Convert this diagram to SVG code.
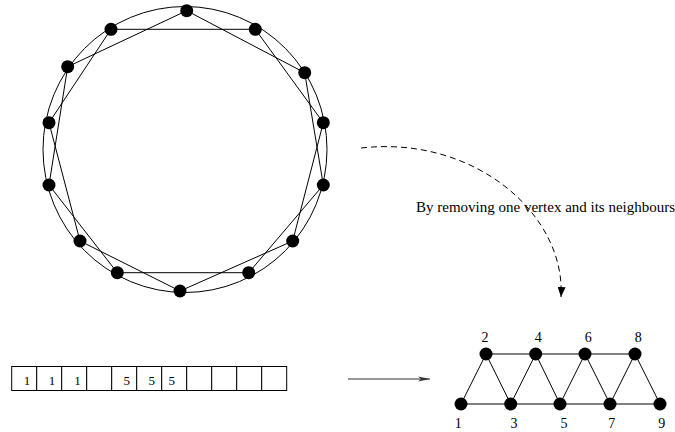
<svg xmlns="http://www.w3.org/2000/svg" width="675" height="432" viewBox="0 0 675 432">
<style>
.e{stroke:#000;stroke-width:1;fill:none}
.v{fill:#000}
.t{font-family:"Liberation Serif","Times New Roman",serif;fill:#000}
.cell{fill:#fff;stroke:#000;stroke-width:1}
</style>
<defs>
<marker id="ah" markerWidth="10" markerHeight="8" refX="10" refY="4" orient="auto" markerUnits="userSpaceOnUse">
<path d="M0,0 L10,4 L0,8 Z" fill="#000"/>
</marker>
<marker id="ah2" markerWidth="12" markerHeight="6" refX="12" refY="3" orient="auto" markerUnits="userSpaceOnUse">
<path d="M0,0.5 L12,3 L0,5.5 L3,3 Z" fill="#333"/>
</marker>
</defs>
<rect width="675" height="432" fill="#fff"/>
<g id="connectors">
<ellipse class="e" cx="185" cy="149.5" rx="142" ry="143"/>
<polygon class="e" points="186.7,10.7 304.7,72.7 323.3,185 248.7,272.7 117.3,272.7 49,185 67.7,66.7"/>
<polygon class="e" points="255.3,29.3 323.3,122.7 292.7,241 180,291 80,241 49,122.7 111,29.3"/>
<path d="M361,148 C475,135 566,215 561,297" fill="none" stroke="#000" stroke-width="1" stroke-dasharray="6,4" marker-end="url(#ah)"/>
<line x1="348" y1="379" x2="430" y2="379" stroke="#333" stroke-width="1" marker-end="url(#ah2)"/>
<polyline class="e" points="486,354 635,354"/>
<polyline class="e" points="461,404 660,404"/>
<polyline class="e" points="461,404 486,354 510.7,404 535.7,354 560,404 585,354 610,404 635,354 660,404"/>
</g>
<g id="cycle">
<circle class="v" cx="186.7" cy="10.7" r="6.5"/>
<circle class="v" cx="255.3" cy="29.3" r="6.5"/>
<circle class="v" cx="304.7" cy="72.7" r="6.5"/>
<circle class="v" cx="323.3" cy="122.7" r="6.5"/>
<circle class="v" cx="323.3" cy="185" r="6.5"/>
<circle class="v" cx="292.7" cy="241" r="6.5"/>
<circle class="v" cx="248.7" cy="272.7" r="6.5"/>
<circle class="v" cx="180" cy="291" r="6.5"/>
<circle class="v" cx="117.3" cy="272.7" r="6.5"/>
<circle class="v" cx="80" cy="241" r="6.5"/>
<circle class="v" cx="49" cy="185" r="6.5"/>
<circle class="v" cx="49" cy="122.7" r="6.5"/>
<circle class="v" cx="67.7" cy="66.7" r="6.5"/>
<circle class="v" cx="111" cy="29.3" r="6.5"/>
</g>
<g id="label">
<text class="t" x="416" y="211.5" font-size="15">By removing one vertex and its neighbours</text>
</g>
<g id="array">
<rect class="cell" x="11.7" y="366.5" width="25" height="24"/>
<rect class="cell" x="36.7" y="366.5" width="25" height="24"/>
<rect class="cell" x="61.7" y="366.5" width="25" height="24"/>
<rect class="cell" x="86.7" y="366.5" width="25" height="24"/>
<rect class="cell" x="111.7" y="366.5" width="25" height="24"/>
<rect class="cell" x="136.7" y="366.5" width="25" height="24"/>
<rect class="cell" x="161.7" y="366.5" width="25" height="24"/>
<rect class="cell" x="186.7" y="366.5" width="25" height="24"/>
<rect class="cell" x="211.7" y="366.5" width="25" height="24"/>
<rect class="cell" x="236.7" y="366.5" width="25" height="24"/>
<rect class="cell" x="261.7" y="366.5" width="25" height="24"/>
<g class="t" font-size="13" text-anchor="middle">
<text x="27" y="384.5">1</text>
<text x="52" y="384.5">1</text>
<text x="77.5" y="384.5">1</text>
<text x="126.7" y="384.5">5</text>
<text x="151.7" y="384.5">5</text>
<text x="171.7" y="384.5">5</text>
</g>
</g>
<g id="path-graph">
<circle class="v" cx="486" cy="354" r="6.5"/>
<circle class="v" cx="535.7" cy="354" r="6.5"/>
<circle class="v" cx="585" cy="354" r="6.5"/>
<circle class="v" cx="635" cy="354" r="6.5"/>
<circle class="v" cx="461" cy="404" r="6.5"/>
<circle class="v" cx="510.7" cy="404" r="6.5"/>
<circle class="v" cx="560" cy="404" r="6.5"/>
<circle class="v" cx="610" cy="404" r="6.5"/>
<circle class="v" cx="660" cy="404" r="6.5"/>
<g class="t" font-size="14" text-anchor="middle">
<text x="485" y="342.3">2</text>
<text x="538.3" y="342.3">4</text>
<text x="588.3" y="342.3">6</text>
<text x="638.3" y="342.3">8</text>
<text x="458.3" y="428.3">1</text>
<text x="514" y="428.3">3</text>
<text x="564" y="428.3">5</text>
<text x="611.7" y="428.3">7</text>
<text x="661.7" y="428.3">9</text>
</g>
</g>
</svg>
